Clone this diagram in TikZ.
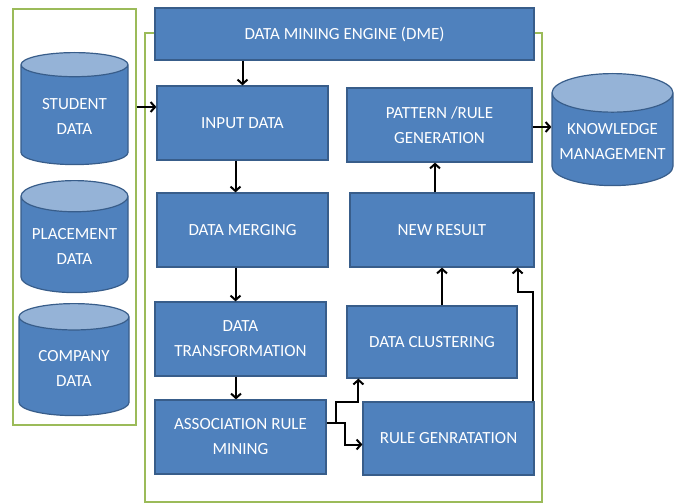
\documentclass[tikz,border=0pt]{standalone}
\usepackage{fontspec}
\setmainfont{Carlito}
\usetikzlibrary{shapes.geometric,arrows.meta}

\definecolor{boxblue}{HTML}{4F81BD}
\definecolor{boxedge}{HTML}{385D8A}
\definecolor{captop}{HTML}{95B3D7}
\definecolor{grpgreen}{HTML}{9BBB59}

\begin{document}
\begin{tikzpicture}[
    x=1pt, y=-1pt,
    box/.style={draw=boxedge, fill=boxblue, line width=1.2pt, text=white,
                minimum width=171pt, minimum height=74pt, align=center,
                font=\fontsize{17}{25}\selectfont, inner sep=2pt},
    db/.style={cylinder, shape border rotate=90, aspect=0.35, draw=boxedge,
               line width=1.2pt, cylinder uses custom fill,
               cylinder body fill=boxblue, cylinder end fill=captop,
               text=white, align=center, minimum width=107pt,
               minimum height=112pt, font=\fontsize{17}{25}\selectfont,
               inner sep=2pt, anchor=north},
    grp/.style={draw=grpgreen, line width=1.6pt},
    arr/.style={-{Straight Barb[length=4.5pt,width=10pt]}, line width=2pt}
  ]
  \useasboundingbox (0,0) rectangle (678,503);

  % frames around the sources and the engine
  \draw[grp] (145,33) rectangle (542,502);
  \node[grp, minimum width=123pt, minimum height=416pt, inner sep=0pt,
        anchor=north west] (srcgrp) at (12,8) {};

  % data sources
  \node[db] (student) at (74.5,52) {STUDENT\\DATA};
  \node[db] (place) at (74.5,180) {PLACEMENT\\DATA};
  \node[db, minimum width=110pt] (company) at (74,303) {COMPANY\\DATA};

  % engine
  \node[box, minimum width=379pt, minimum height=52pt] (dme) at (344.5,34)
    {DATA MINING ENGINE (DME)};
  \node[box] (input) at (242.5,123) {INPUT DATA};
  \node[box] (merge) at (242.5,230) {DATA MERGING};
  \node[box] (trans) at (240.5,339) {DATA\\TRANSFORMATION};
  \node[box] (assoc) at (240.5,437) {ASSOCIATION RULE\\MINING};
  \node[box, minimum width=185pt] (pattern) at (439.5,125)
    {PATTERN /RULE\\GENERATION};
  \node[box, minimum width=184pt] (newres) at (442,230) {NEW RESULT};
  \node[box, minimum width=170pt, minimum height=72pt] (cluster) at (432,342)
    {DATA CLUSTERING};
  \node[box, minimum height=73pt] (rulegen) at (448.5,438.5)
    {RULE GENRATATION};

  % output store
  \node[db, minimum width=121pt] (know) at (612.5,73)
    {KNOWLEDGE\\MANAGEMENT};

  \draw[arr] (srcgrp.east |- 0,107) -- (input.west |- 0,107);
  \draw[arr] (dme.south -| input) -- (input.north);
  \draw[arr] ([xshift=-7pt]input.south) -- ([xshift=-7pt]merge.north);
  \draw[arr] ([xshift=-7pt]merge.south) -- ([xshift=-5pt]trans.north);
  \draw[arr] ([xshift=-4.5pt]trans.south) -- ([xshift=-4.5pt]assoc.north);
  \draw[arr] ([yshift=14pt]assoc.east) -- ++(9,0) coordinate (fork)
    -- ++(0,-21) -| ([xshift=12pt]cluster.south west);
  \draw[arr] (fork) -- ++(9,0) |- ([yshift=-6pt]rulegen.west);
  \draw[arr] (cluster.north -| newres) -- (newres.south);
  \draw[arr] ([xshift=-2pt]rulegen.north east) -- ++(0,-109)
    -| ([xshift=-17pt]newres.south east);
  \draw[arr] ([xshift=-7pt]newres.north) -- ([xshift=-7pt]newres.north |- pattern.south);
  \draw[arr] (pattern.east |- 0,127) -- (know.west |- 0,127);
\end{tikzpicture}
\end{document}
